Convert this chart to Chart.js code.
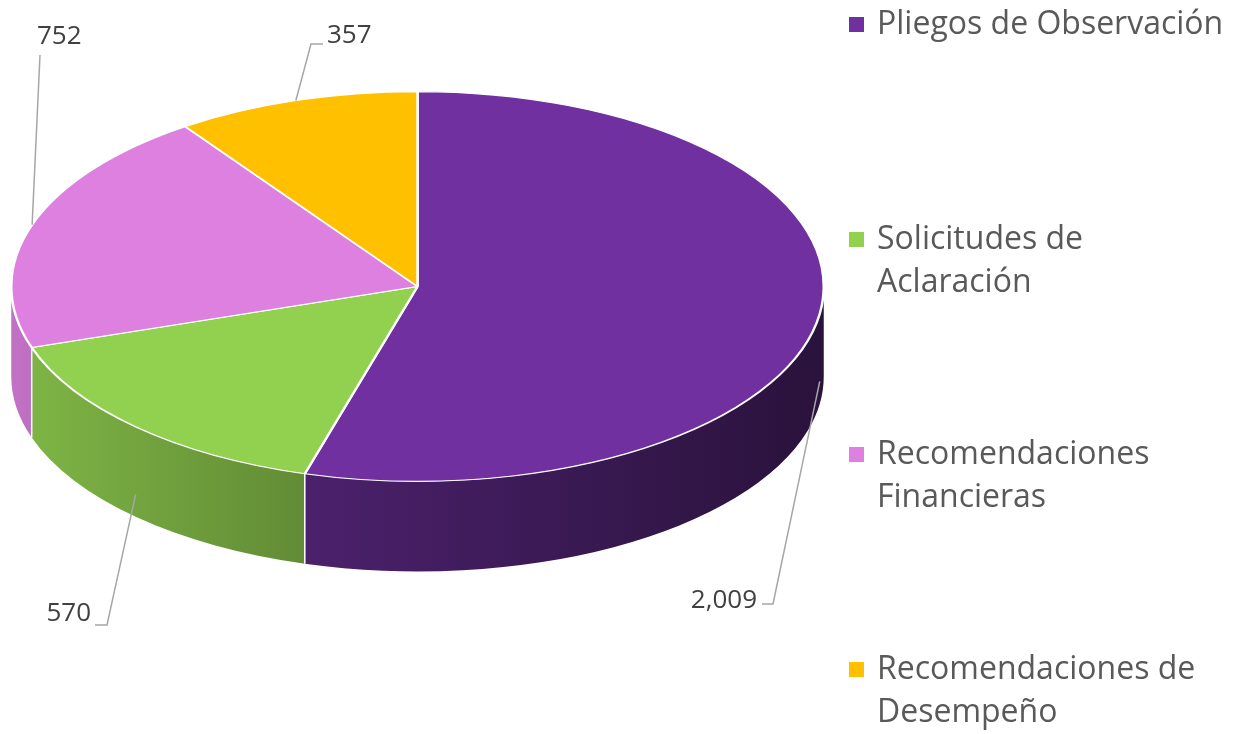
<!DOCTYPE html>
<html>
<head>
<meta charset="utf-8">
<title>Pliegos y Recomendaciones</title>
<script src="https://cdn.jsdelivr.net/npm/chart.js"></script>
<style>
  body { margin: 0; width: 1243px; height: 734px; overflow: hidden; background: #fff; font-family: "Open Sans", sans-serif; }
  #pie { position: absolute; left: 0; top: 0; }
  #legend { position: absolute; left: 849px; top: 0px; width: 394px; }
  .item { height: 215px; display: flex; align-items: flex-start; }
  .box { width: 15px; height: 15px; margin-top: 17px; margin-right: 13px; flex: none; }
  .txt { font-size: 32px; line-height: 43px; color: #595959; width: 352px; }
</style>
</head>
<body>
<canvas id="pie" width="1243" height="830"></canvas>
<div id="legend"></div>
<script>
var labels = ['Pliegos de Observación', 'Solicitudes de Aclaración', 'Recomendaciones Financieras', 'Recomendaciones de Desempeño'];
var values = [2009, 570, 752, 357];
var colors = ['#7030A0', '#92D050', '#DD80E0', '#FFC000'];

// 3d look: squash factor, screen centre and wall height
var tilt = 195.5 / 407.5, centerY = 286.5, depth = 90;

// where each value label sits (text anchor + leader knee/end), screen px
var labelSpots = [
  { x: 757, y: 601, align: 'right', knee: [773, 604], end: [762, 604] },
  { x: 91, y: 614, align: 'right', knee: [107, 625], end: [95, 625] },
  { x: 37, y: 37, align: 'left', knee: [40, 55], end: [40, 55] },
  { x: 327, y: 36, align: 'left', knee: [311, 44], end: [323, 44] }
];

function shade(hex, f) {
  var n = parseInt(hex.slice(1), 16);
  var r = (n >> 16) & 255, g = (n >> 8) & 255, b = n & 255;
  return 'rgb(' + Math.round(r * f) + ',' + Math.round(g * f) + ',' + Math.round(b * f) + ')';
}

var pie3d = {
  id: 'pie3d',
  beforeDatasetsDraw: function(chart) {
    var ctx = chart.ctx, arcs = chart.getDatasetMeta(0).data;
    var cx = arcs[0].x, cy = arcs[0].y, r = arcs[0].outerRadius, d = depth / tilt;
    ctx.save();
    ctx.translate(0, centerY);
    ctx.scale(1, tilt);
    ctx.translate(0, -cy);
    // front walls
    arcs.forEach(function(arc, i) {
      var a0 = Math.max(arc.startAngle, 0), a1 = Math.min(arc.endAngle, Math.PI);
      if (a1 <= a0) return;
      var g = ctx.createLinearGradient(cx - r, 0, cx + r, 0);
      g.addColorStop(0, shade(colors[i], 0.88));
      g.addColorStop(0.35, shade(colors[i], 0.68));
      g.addColorStop(1, shade(colors[i], 0.37));
      ctx.beginPath();
      ctx.arc(cx, cy, r, a0, a1);
      ctx.arc(cx, cy + d, r, a1, a0, true);
      ctx.closePath();
      ctx.fillStyle = g;
      ctx.fill();
    });
    ctx.strokeStyle = '#fff';
    ctx.lineWidth = 1.5;
    arcs.forEach(function(arc) {
      var a = arc.endAngle;
      if (a > 0 && a < Math.PI) {
        var x = cx + r * Math.cos(a), y = cy + r * Math.sin(a);
        ctx.beginPath();
        ctx.moveTo(x, y);
        ctx.lineTo(x, y + d);
        ctx.stroke();
      }
    });
  },
  afterDatasetsDraw: function(chart) {
    chart.ctx.restore();
  },
  afterDraw: function(chart) {
    var ctx = chart.ctx, arcs = chart.getDatasetMeta(0).data;
    ctx.save();
    ctx.font = '26px "Open Sans"';
    ctx.textBaseline = 'middle';
    arcs.forEach(function(arc, i) {
      var mid = (arc.startAngle + arc.endAngle) / 2;
      var r = arc.outerRadius;
      var ax = arc.x + r * Math.cos(mid);
      var ay = centerY + r * tilt * Math.sin(mid) + (Math.sin(mid) > 0 ? depth * 0.75 : 0);
      var s = labelSpots[i];
      ctx.strokeStyle = '#A6A6A6';
      ctx.lineWidth = 1.5;
      ctx.beginPath();
      ctx.moveTo(ax, ay);
      ctx.lineTo(s.knee[0], s.knee[1]);
      ctx.lineTo(s.end[0], s.end[1]);
      ctx.stroke();
      ctx.fillStyle = '#404040';
      ctx.textAlign = s.align;
      ctx.fillText(values[i].toLocaleString('en-US'), s.x, s.y);
    });
    ctx.restore();
  }
};

var chart = new Chart(document.getElementById('pie').getContext('2d'), {
  type: 'pie',
  data: {
    labels: labels,
    datasets: [{
      data: values,
      backgroundColor: colors,
      borderColor: '#fff',
      borderWidth: 2.5,
      clip: false
    }]
  },
  options: {
    responsive: false,
    animation: false,
    devicePixelRatio: 1,
    layout: { padding: { left: 10, right: 418, top: 7, bottom: 7 } },
    plugins: {
      legend: { display: false },
      tooltip: { enabled: false }
    }
  },
  plugins: [pie3d]
});

// legend built from the chart's own legend items
var legendDiv = document.getElementById('legend');
chart.options.plugins.legend.labels.generateLabels(chart).forEach(function(item) {
  var row = document.createElement('div');
  row.className = 'item';
  var box = document.createElement('span');
  box.className = 'box';
  box.style.background = item.fillStyle;
  var txt = document.createElement('span');
  txt.className = 'txt';
  txt.textContent = item.text;
  row.appendChild(box);
  row.appendChild(txt);
  legendDiv.appendChild(row);
});
</script>
</body>
</html>
